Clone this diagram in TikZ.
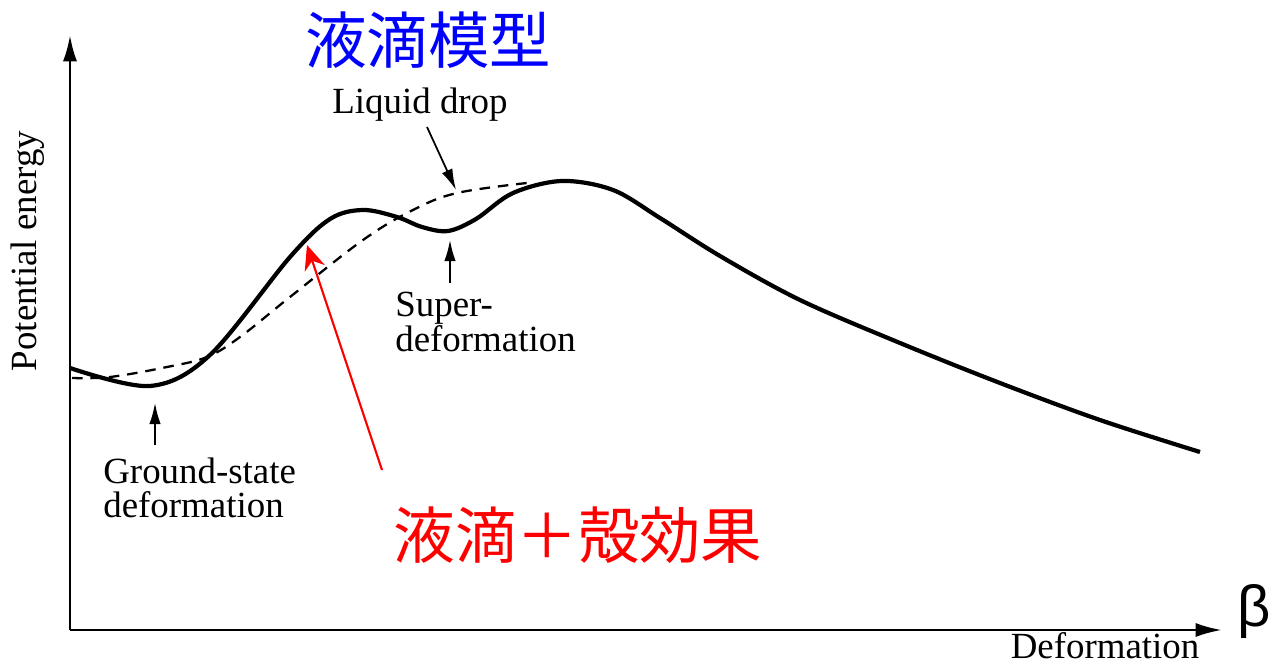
\documentclass[tikz,border=0pt]{standalone}
\usepackage{fontspec}
\setmainfont{Liberation Serif}
\newfontfamily\cjk{Noto Sans CJK JP}
\newfontfamily\betafont{Liberation Sans}
\usetikzlibrary{arrows.meta}
\tikzset{
  lbl/.style={inner sep=0pt, font=\fontsize{21}{19.5}\selectfont, align=left},
  axis/.style={line width=1.6pt, -{Latex[length=15pt,width=8pt]}},
  pointer/.style={line width=1pt, -{Latex[length=12pt,width=6.5pt]}},
  solidcurve/.style={line width=2.4pt, line join=round},
  dashcurve/.style={line width=1.3pt, dash pattern=on 6pt off 4.5pt},
  cjktitle/.style={inner sep=0pt, font=\cjk\fontsize{35}{40}\selectfont},
}
\begin{document}
\begin{tikzpicture}[x=0.02cm,y=-0.02cm]
\useasboundingbox (0,0) rectangle (1270,665);
% axes
\coordinate (O) at (70,630);
\coordinate (ytop) at (70,35);
\coordinate (xend) at (1222,630);
\draw[axis] (O) -- (ytop);
\draw[axis] (O) -- (xend);
% curves
\draw[dashcurve] plot[smooth, tension=0.6] coordinates {(72,378) (110,377) (167,367) (207,357) (240,337) (290,297) (363,240) (413,210) (457,193) (527,183)};
\draw[solidcurve] plot[smooth, tension=0.55] coordinates {(70,368) (150,386) (210,355) (290,257) (330,219) (363,210) (397,217) (422,227) (448,231) (476,219) (513,193) (562,181) (613,190) (660,218) (720,256) (800,300) (900,343) (1000,383) (1100,420) (1200,452)};
% labels
\node[lbl] (pe) at (28,251) [rotate=90] {Potential energy};
\node[lbl] (def) at (1105,646) {Deformation};
\node[inner sep=0pt, font=\betafont\fontsize{33}{36}\selectfont] (beta) at (1254,612) {β};
\node[lbl] (ld) at (420,105) {Liquid drop};
\node[lbl, anchor=west] (gs) at (103,488) {Ground-state\\deformation};
\node[lbl, anchor=west] (sd) at (395,322) {Super-\\deformation};
\node[cjktitle, text={rgb,255:red,0;green,0;blue,255}] (lm) at (428,40) {液滴模型};
\node[cjktitle, text={rgb,255:red,255;green,0;blue,0}] (ls) at (578,535) {液滴＋殻効果};
% pointers
\coordinate (ldtip) at (456,190);
\coordinate (gstip) at (155,403);
\coordinate (sdtip) at (450,240);
\coordinate (redtip) at (307,245);
\coordinate (gstail) at (155,445);
\coordinate (sdtail) at (450,283);
\coordinate (ldtail) at (427,127);
\coordinate (redtail) at (382,470);
\draw[pointer] (ldtail) -- (ldtip);
\draw[pointer] (gstail) -- (gstip);
\draw[pointer] (sdtail) -- (sdtip);
\draw[line width=1.2pt, red, -{Stealth[length=14pt,width=12pt]}] (redtail) -- (redtip);
\end{tikzpicture}
\end{document}
